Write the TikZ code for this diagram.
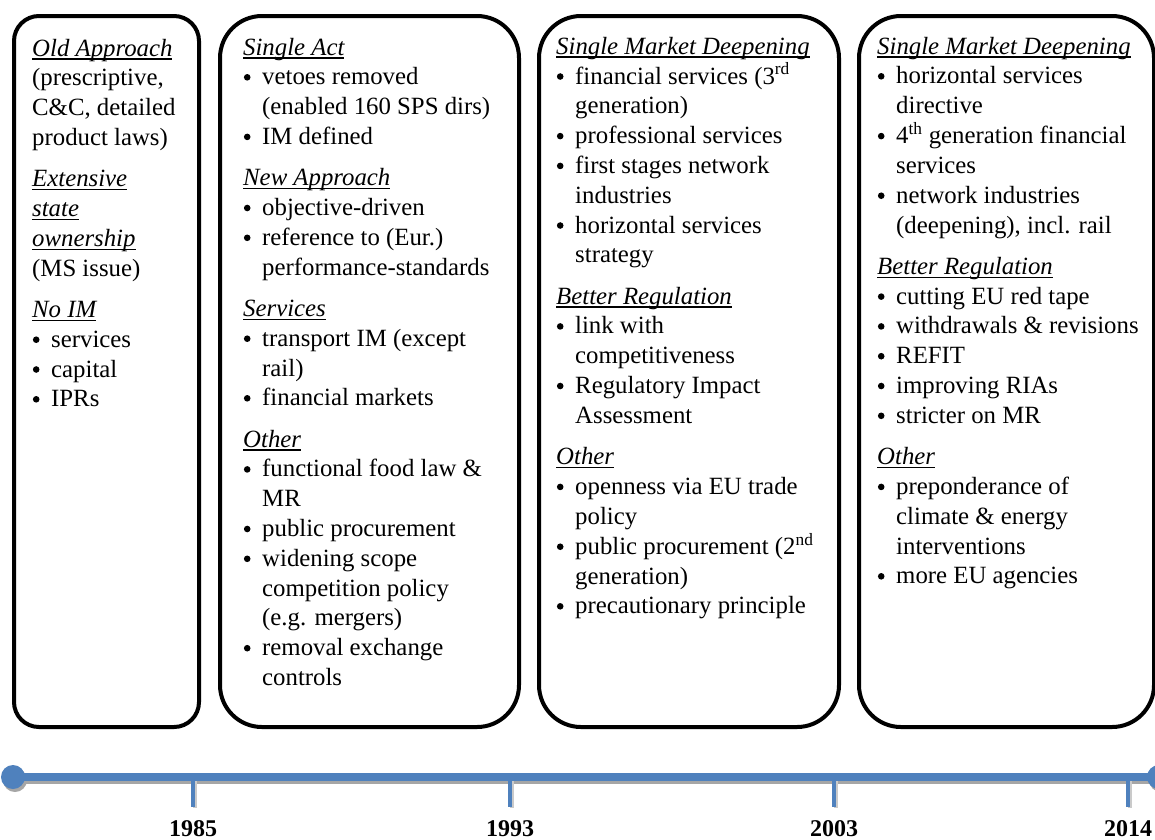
\documentclass[tikz,border=0pt]{standalone}
\usepackage{fontspec}
\setmainfont{Liberation Serif}
\definecolor{tlblue}{HTML}{4F81BD}
\definecolor{tlshadow}{HTML}{A6A6A6}
\newcommand\secth[1]{\setbox0\hbox{\itshape #1}\rlap{\rule[-3.5pt]{\wd0}{1.3pt}}\box0}
\newcommand\bul{\makebox[19pt][l]{\tikz[baseline=0pt]{\useasboundingbox (0pt,0pt) rectangle (8pt,1pt);\fill (4pt,7.5pt) circle[radius=3.3pt];}}}
\newcommand\cont{\hspace*{19pt}}
\newcommand\gp{11.5pt}
\begin{document}
\begin{tikzpicture}[x=1pt,y=-1pt,
  box/.style={draw=black,line width=4pt,minimum height=711pt,inner sep=0pt,anchor=north west},
  txt/.style={inner sep=0pt,anchor=base west,font=\fontsize{24.8}{29.8}\selectfont},
  year/.style={inner sep=0pt,anchor=base,font=\fontsize{24}{28}\selectfont\bfseries},
  dot/.style={circle,fill=tlblue,minimum size=24pt,inner sep=0pt},
  sdot/.style={circle,fill=tlshadow,minimum size=24pt,inner sep=0pt},
  tline/.style={line width=8pt,tlblue},
  sline/.style={line width=8pt,tlshadow},
  tick/.style={line width=4pt,tlblue}]
\useasboundingbox (0,0) rectangle (1155,839);
% boxes
\node[box,minimum width=185pt,rounded corners=25pt] (b1) at (12,14) {};
\node[box,minimum width=299pt,rounded corners=42pt] (b2) at (218,14) {};
\node[box,minimum width=300pt,rounded corners=42pt] (b3) at (537,14) {};
\node[box,minimum width=295pt,rounded corners=42pt] (b4) at (857,14) {};
% texts
\node[txt] (t1) at (32,56) {\begin{tabular}[t]{@{}l@{}}
\secth{Old Approach}\\
(prescriptive,\\
C\&C, detailed\\
product laws)\\[\gp]
\secth{Extensive}\\
\secth{state}\\
\secth{ownership}\\
(MS issue)\\[\gp]
\secth{No IM}\\
\bul services\\
\bul capital\\
\bul IPRs
\end{tabular}};
\node[txt] (t2) at (243,55) {\begin{tabular}[t]{@{}l@{}}
\secth{Single Act}\\
\bul vetoes removed\\
\cont (enabled 160 SPS dirs)\\
\bul IM defined\\[\gp]
\secth{New Approach}\\
\bul objective-driven\\
\bul reference to (Eur.)\\
\cont performance-standards\\[\gp]
\secth{Services}\\
\bul transport IM (except\\
\cont rail)\\
\bul financial markets\\[\gp]
\secth{Other}\\
\bul functional food law \&\\
\cont MR\\
\bul public procurement\\
\bul widening scope\\
\cont competition policy\\
\cont (e.g. mergers)\\
\bul removal exchange\\
\cont controls
\end{tabular}};
\node[txt] (t3) at (556,54) {\begin{tabular}[t]{@{}l@{}}
\secth{Single Market Deepening}\\
\bul financial services (3\textsuperscript{rd}\\
\cont generation)\\
\bul professional services\\
\bul first stages network\\
\cont industries\\
\bul horizontal services\\
\cont strategy\\[\gp]
\secth{Better Regulation}\\
\bul link with\\
\cont competitiveness\\
\bul Regulatory Impact\\
\cont Assessment\\[\gp]
\secth{Other}\\
\bul openness via EU trade\\
\cont policy\\
\bul public procurement (2\textsuperscript{nd}\\
\cont generation)\\
\bul precautionary principle
\end{tabular}};
\node[txt] (t4) at (877,54) {\begin{tabular}[t]{@{}l@{}}
\secth{Single Market Deepening}\\
\bul horizontal services\\
\cont directive\\
\bul 4\textsuperscript{th} generation financial\\
\cont services\\
\bul network industries\\
\cont (deepening), incl. rail\\[\gp]
\secth{Better Regulation}\\
\bul cutting EU red tape\\
\bul withdrawals \& revisions\\
\bul REFIT\\
\bul improving RIAs\\
\bul stricter on MR\\[\gp]
\secth{Other}\\
\bul preponderance of\\
\cont climate \& energy\\
\cont interventions\\
\bul more EU agencies
\end{tabular}};
% timeline shadow
\node[sdot] (Ls) at (15,780) {};
\node[sdot] (Rs) at (1161,780) {};
\draw[sline] (Ls.center) -- (Rs.center);
% timeline
\draw[tline] (13,777) coordinate (Lc) -- (1159,777) coordinate (Rc);
\node[dot] (L) at (Lc) {};
\node[dot] (R) at (Rc) {};
% ticks
\coordinate (k1) at (193,781);
\coordinate (k2) at (510,781);
\coordinate (k3) at (834,781);
\coordinate (k4) at (1128,781);
\foreach \k in {k1,k2,k3,k4}{
  \draw[line width=4pt,tlshadow!60] ([shift={(1.5,0)}]\k) -- ++(0,27);
  \draw[tick] (\k) -- ++(0,26);
}
% years
\node[year] (y1) at (193,836) {1985};
\node[year] (y2) at (510,836) {1993};
\node[year] (y3) at (834,836) {2003};
\node[year] (y4) at (1128,836) {2014};
\end{tikzpicture}
\end{document}
